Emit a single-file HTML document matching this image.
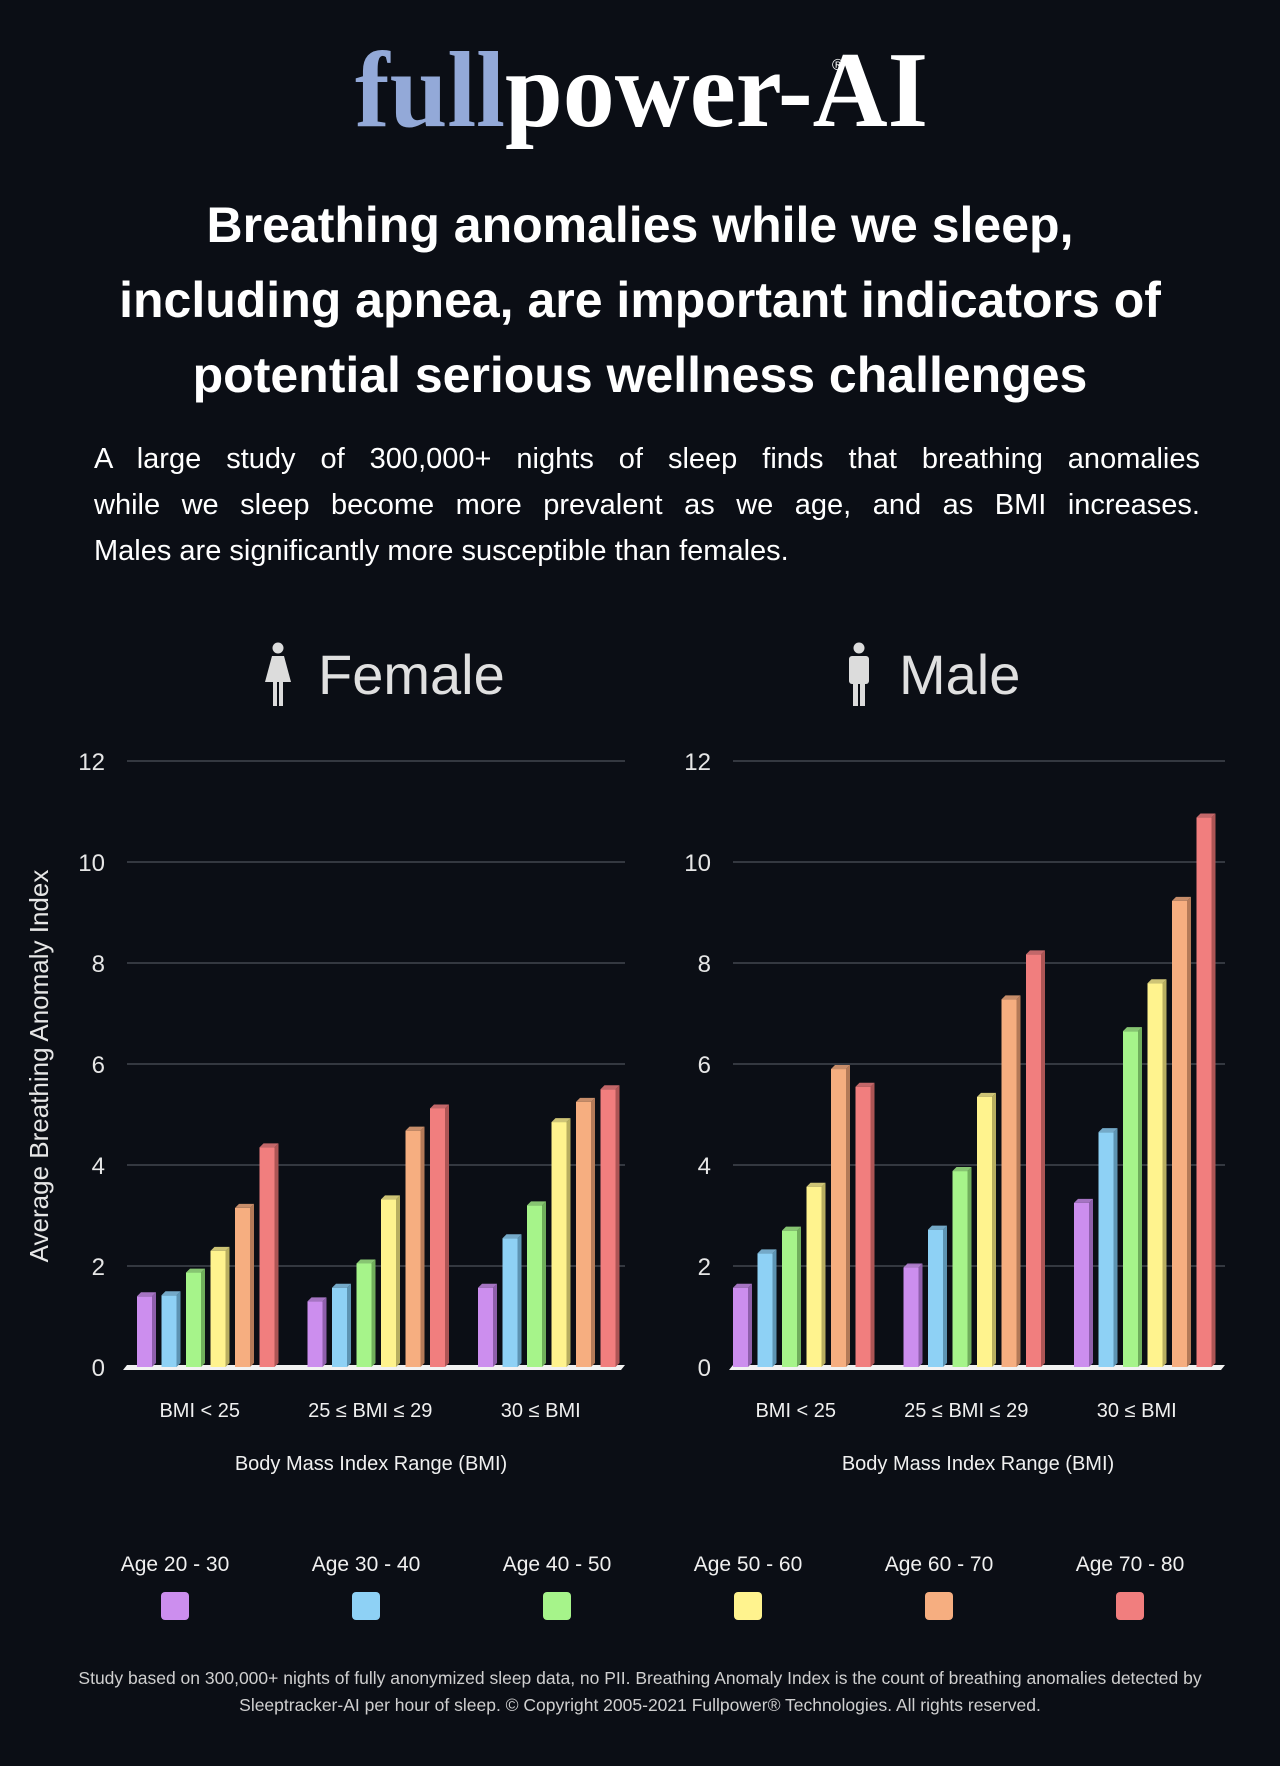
<!DOCTYPE html>
<html><head><meta charset="utf-8"><style>
html,body{margin:0;padding:0;background:#0b0e15;}
svg{display:block;}
#intro{position:absolute;left:94px;top:436px;width:1106px;color:#fff;font-family:"Liberation Sans",sans-serif;font-size:29px;line-height:46px;}
#intro div{text-align:justify;text-align-last:justify;white-space:nowrap;}
#intro div.last{text-align-last:left;}
</style></head><body>
<svg id="page" width="1280" height="1766" viewBox="0 0 1280 1766" xmlns="http://www.w3.org/2000/svg" font-family="Liberation Sans, sans-serif">
<rect width="1280" height="1766" fill="#0b0e15"/>
<text x="355" y="126" font-family="Liberation Serif, serif" font-weight="bold" font-size="108" textLength="573" lengthAdjust="spacingAndGlyphs"><tspan fill="#93a9d8">full</tspan><tspan fill="#ffffff">power-AI</tspan></text>
<text x="832" y="70" fill="#fff" font-size="16">®</text>
<g fill="#fff" font-weight="bold" font-size="50" text-anchor="middle">
<text x="640" y="242">Breathing anomalies while we sleep,</text>
<text x="640" y="317">including apnea, are important indicators of</text>
<text x="640" y="392">potential serious wellness challenges</text>
</g>
<text transform="translate(48,1066) rotate(-90)" text-anchor="middle" fill="#e6e6e6" font-size="26">Average Breathing Anomaly Index</text>
<g id="charts"></g>
<g id="legend"></g>
<g fill="#cfcfcf" font-size="17.5" text-anchor="middle">
<text x="640" y="1684">Study based on 300,000+ nights of fully anonymized sleep data, no PII. Breathing Anomaly Index is the count of breathing anomalies detected by</text>
<text x="640" y="1711">Sleeptracker-AI per hour of sleep.  © Copyright 2005-2021 Fullpower® Technologies. All rights reserved.</text>
</g>
</svg>
<div id="intro"><div>A large study of 300,000+ nights of sleep finds that breathing anomalies</div><div>while we sleep become more prevalent as we age, and as BMI increases.</div><div class="last">Males are significantly more susceptible than females.</div></div>
<script>
const categories = ["BMI < 25", "25 ≤ BMI ≤ 29", "30 ≤ BMI"];
const ageGroups = ["Age 20 - 30","Age 30 - 40","Age 40 - 50","Age 50 - 60","Age 60 - 70","Age 70 - 80"];
const yTicks = [0,2,4,6,8,10,12];
const femaleValues = [[1.4,1.42,1.87,2.3,3.15,4.35],[1.3,1.57,2.05,3.32,4.68,5.12],[1.57,2.55,3.2,4.85,5.25,5.5]];
const maleValues = [[1.57,2.25,2.7,3.57,5.9,5.55],[1.97,2.72,3.88,5.35,7.28,8.17],[3.25,4.65,6.65,7.6,9.23,10.88]];
const colors = ["#cc8eee","#8ed1f5","#a6f48a","#fff38e","#f6ae80","#f17e7e"];
const sides = ["#8e5fab","#5d94b3","#70ae5c","#b8ae60","#b47a58","#ad5555"];

const NS="http://www.w3.org/2000/svg";
function mk(tag,attrs,parent){const e=document.createElementNS(NS,tag);for(const k in attrs)e.setAttribute(k,attrs[k]);parent.appendChild(e);return e;}
const yTop=761, yBot=1367, yMax=12;
function yScale(v){return yBot-(v/yMax)*(yBot-yTop);}

function drawChart(title,values,x0,x1,groupStart,iconType,titleX){
  const root=document.getElementById('charts');
  const g=mk('g',{},root);
  
  
  const t=mk('text',{x:titleX,y:694,fill:'#e0e0e0','font-size':56},g);
  t.textContent=title;
  
  
  const ic=mk('g',{fill:'#dcdcdc'},g);
  
  
  const cx=titleX-40;
  mk('circle',{cx:cx,cy:648,r:5.5},ic);
  if(iconType==='f'){
    mk('path',{d:`M${cx-6} 656 L${cx+6} 656 L${cx+13} 682 L${cx-13} 682 Z`},ic);
    mk('rect',{x:cx-5,y:681,width:4,height:25},ic);mk('rect',{x:cx+1,y:681,width:4,height:25},ic);
  } else {
    mk('rect',{x:cx-10,y:656,width:20,height:28,rx:3},ic);
    mk('rect',{x:cx-6,y:682,width:5,height:24},ic);mk('rect',{x:cx+1,y:682,width:5,height:24},ic);
  }
  yTicks.forEach(v=>{
    const y=yScale(v);
    if(v>0){const l=mk('line',{x1:x0,x2:x1,y1:y,y2:y,stroke:'#5d636c','stroke-width':1},g);
      
      }
    const tl=mk('text',{x:x0-22,y:y+9,'text-anchor':'end',fill:'#e6e6e6','font-size':24},g);
    tl.textContent=v;
    
    
  });
  const base=mk('path',{d:`M${x0-4} ${yBot+3} L${x0} ${yBot-2} L${x1} ${yBot-2} L${x1-4} ${yBot+3} Z`,fill:'#f2f2f2'},g);
  
  
  const bw=15, dx=4, step=24.5, gstep=170.5;
  values.forEach((grp,gi)=>{
    const gx=groupStart+gi*gstep;
    grp.forEach((v,i)=>{
      const x=gx+i*step, y=yScale(v), h=yBot-y;
      const b=mk('g',{},g);
      
      
      mk('rect',{x:x,y:y,width:bw,height:h,fill:colors[i]},b);
      mk('path',{d:`M${x+bw} ${y} L${x+bw+dx} ${y-4} L${x+bw+dx} ${yBot-4} L${x+bw} ${yBot} Z`,fill:sides[i]},b);
      mk('path',{d:`M${x} ${y} L${x+dx} ${y-4} L${x+bw+dx} ${y-4} L${x+bw} ${y} Z`,fill:colors[i],opacity:0.8},b);
    });
    const c=mk('text',{x:gx+(5*step+bw)/2-6,y:1417,'text-anchor':'middle',fill:'#f0f0f0','font-size':20},g);
    c.textContent=categories[gi];
    
    
  });
  const xt=mk('text',{x:(x0+x1)/2+(title==='Female'?-5:-1),y:1470,'text-anchor':'middle',fill:'#f0f0f0','font-size':20},g);
  xt.textContent='Body Mass Index Range (BMI)';
  
  
}
drawChart('Female',femaleValues,127,625,137,'f',318);
drawChart('Male',maleValues,733,1225,733,'m',899);

const lg=document.getElementById('legend');
const lxs=[175,366,557,748,939,1130];
ageGroups.forEach((a,i)=>{
  const e=mk('g',{},lg);
  
  
  const t=mk('text',{x:lxs[i],y:1571,'text-anchor':'middle',fill:'#f0f0f0','font-size':21},e);
  t.textContent=a;
  mk('rect',{x:lxs[i]-14,y:1592,width:28,height:28,rx:4,fill:colors[i]},e);
});
</script>
</body></html>
